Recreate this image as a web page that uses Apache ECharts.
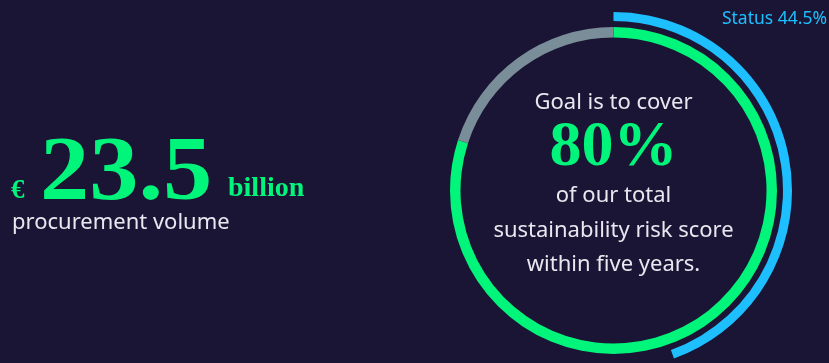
<!DOCTYPE html>
<html><head><meta charset="utf-8">
<script src="https://cdn.jsdelivr.net/npm/echarts@6/dist/echarts.min.js"></script>
<style>html,body{margin:0;padding:0;background:#1b1535;}#c{width:829px;height:363px;}</style>
</head><body><div id="c"></div>
<script>
const goalLabels = ['Goal', 'Remaining'];
const goalValues = [80, 20];
const statusLabels = ['Status', 'Rest'];
const statusValues = [44.5, 55.5];
const volumeValue = '23.5';
const centerLines = ['of our total', 'sustainability risk score', 'within five years.'];

const green = '#00f57a', gray = '#7a8e9a', blue = '#1ebfff', bg = '#1b1535', white = '#e8e8f0';
const sans = '"Noto Sans", "Open Sans", sans-serif';
const serif = '"Liberation Serif", serif';
const chart = echarts.init(document.getElementById('c'), null, {renderer: 'canvas'});
const cx = 613.5, cy = 190.5;
chart.setOption({
  backgroundColor: bg,
  animation: false,
  series: [
    {
      type: 'pie', center: [cx, cy], radius: [153, 163.5], startAngle: 90, clockwise: true,
      silent: true, label: {show: false}, labelLine: {show: false},
      data: goalLabels.map((n, i) => ({name: n, value: goalValues[i], itemStyle: {color: i === 0 ? green : gray}}))
    },
    {
      type: 'pie', center: [cx, cy], radius: [169.5, 178.5], startAngle: 90, clockwise: true,
      silent: true, label: {show: false}, labelLine: {show: false},
      data: statusLabels.map((n, i) => ({name: n, value: statusValues[i], itemStyle: {color: i === 0 ? blue : 'rgba(0,0,0,0)'}}))
    }
  ],
  graphic: [
    {type: 'text', x: 827, y: 19, style: {text: statusLabels[0] + ' ' + statusValues[0] + '%', fill: blue, font: '17.5px ' + sans, align: 'right', verticalAlign: 'middle'}},
    {type: 'text', x: cx, y: 103, style: {text: 'Goal is to cover', fill: white, font: '22px ' + sans, align: 'center', verticalAlign: 'middle'}},
    {type: 'text', x: cx, y: 148, style: {text: goalValues[0] + '%', fill: green, font: 'bold 64px ' + serif, align: 'center', verticalAlign: 'middle'}},
    ...centerLines.map((t, i) => ({type: 'text', x: cx, y: 196 + i * 34.5, style: {text: t, fill: white, font: '22px ' + sans, align: 'center', verticalAlign: 'middle'}})),
    {type: 'text', x: 11, y: 191, style: {text: '€', fill: green, font: 'bold 27px ' + serif, align: 'left', verticalAlign: 'middle'}},
    {type: 'text', x: 40, y: 175, scaleX: 1.07, style: {text: volumeValue, fill: green, font: 'bold 92px ' + serif, align: 'left', verticalAlign: 'middle'}},
    {type: 'text', x: 228, y: 189, style: {text: 'billion', fill: green, font: 'bold 28px ' + serif, align: 'left', verticalAlign: 'middle'}},
    {type: 'text', x: 12, y: 223, style: {text: 'procurement volume', fill: white, font: '22px ' + sans, align: 'left', verticalAlign: 'middle'}}
  ]
});
</script></body></html>
